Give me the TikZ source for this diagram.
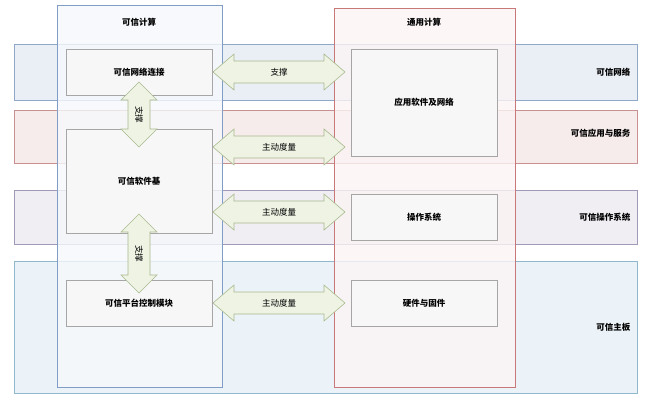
\documentclass[tikz,border=0pt]{standalone}
\usepackage{fontspec}
\setmainfont{Noto Sans CJK SC}
\usetikzlibrary{fit}
\definecolor{arrF}{HTML}{EEF3E4}
\definecolor{arrD}{HTML}{A9BA8E}
\begin{document}
\begin{tikzpicture}[x=1pt,y=-1pt,
 box/.style={draw=gray!70,fill=gray!6,line width=0.6pt,font=\bfseries\fontsize{8.5}{10}\selectfont},
 lbl/.style={font=\bfseries\fontsize{8.5}{10}\selectfont},
 arr/.style={draw=arrD,fill=arrF,line width=0.6pt,line join=miter},
 alab/.style={font=\fontsize{8.5}{10}\selectfont}]
\useasboundingbox (0,0) rectangle (660,400);
% bands
\filldraw[fill={rgb,255:red,234;green,239;blue,246},draw={rgb,255:red,143;green,168;blue,200}] (14,44) rectangle (637,100);
\filldraw[fill={rgb,255:red,246;green,236;blue,236},draw={rgb,255:red,200;green,144;blue,144}] (14,110) rectangle (637,163);
\filldraw[fill={rgb,255:red,240;green,237;blue,243},draw={rgb,255:red,160;green,154;blue,184}] (14,190) rectangle (637,244);
\filldraw[fill={rgb,255:red,236;green,243;blue,248},draw={rgb,255:red,143;green,184;blue,204}] (14,261) rectangle (637,393);
\node[lbl,anchor=east] (b1) at (634,72) {可信网络};
\node[lbl,anchor=east] (b2) at (634,133) {可信应用与服务};
\node[lbl,anchor=east] (b3) at (634,217) {可信操作系统};
\node[lbl,anchor=east] (b4) at (634,327) {可信主板};
% columns
\fill[fill={rgb,255:red,246;green,248;blue,251},fill opacity=0.8] (57,5) rectangle (222,387);
\draw[draw={rgb,255:red,127;green,157;blue,197},line width=0.7pt] (57,5) rectangle (222,387);
\fill[fill={rgb,255:red,251;green,244;blue,244},fill opacity=0.8] (334,8) rectangle (515,387);
\draw[draw={rgb,255:red,200;green,120;blue,120},line width=0.7pt] (334,8) rectangle (515,387);
\node[lbl] (t1) at (139,22) {可信计算};
\node[lbl] (t2) at (424,22) {通用计算};
% boxes
\node[box,minimum width=146pt,minimum height=46pt] (n1) at (139,72) {可信网络连接};
\node[box,minimum width=146pt,minimum height=104pt] (n2) at (139,181) {可信软件基};
\node[box,minimum width=146pt,minimum height=46pt] (n3) at (139,303) {可信平台控制模块};
\node[box,minimum width=146pt,minimum height=107pt] (m1) at (424,102.5) {应用软件及网络};
\node[box,minimum width=146pt,minimum height=46pt] (m2) at (424,217) {操作系统};
\node[box,minimum width=146pt,minimum height=46pt] (m3) at (424,303) {硬件与固件};
% horizontal arrows
\foreach \y/\t/\nm in {72/支撑/h1,147/主动度量/h2,212/主动度量/h3,303/主动度量/h4}{
 \draw[arr] (213,\y) -- (234,\y-18) -- (234,\y-11) -- (324,\y-11) -- (324,\y-18) -- (345,\y)
   -- (324,\y+18) -- (324,\y+11) -- (234,\y+11) -- (234,\y+18) -- cycle;
 \node[alab] (\nm) at (279,\y) {\t};
}
% vertical arrows
\foreach \a/\b/\nm in {82/147/v1,214/293/v2}{
 \draw[arr] (139,\a) -- (157,\a+18) -- (150,\a+18) -- (150,\b-18) -- (157,\b-18) -- (139,\b)
   -- (121,\b-18) -- (128,\b-18) -- (128,\a+18) -- (121,\a+18) -- cycle;
 \node[alab,rotate=-90] (\nm) at (139,{(\a+\b)/2}) {支撑};
}
\end{tikzpicture}
\end{document}
